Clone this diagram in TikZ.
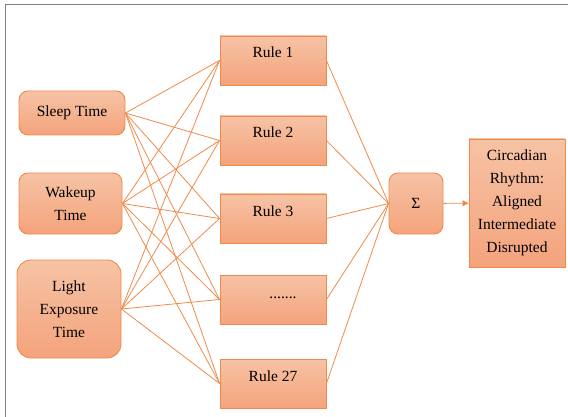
\documentclass[tikz,border=0pt]{standalone}
\usepackage{fontspec}
\setmainfont{Liberation Serif}
\newfontfamily\diagfont{Liberation Serif}
\usetikzlibrary{arrows.meta}
\definecolor{boxtop}{HTML}{F6C3A5}
\definecolor{boxbot}{HTML}{F4A37C}
\definecolor{boxline}{HTML}{F08A4B}
\colorlet{link}{boxline}
\tikzset{
  inbox/.style={draw=boxline,line width=0.9pt,top color=boxtop,bottom color=boxbot,rounded corners=9pt,align=center,inner sep=2pt},
  rulebox/.style={draw=boxline,line width=0.9pt,top color=boxtop,bottom color=boxbot,minimum width=106pt,inner xsep=2pt,inner ysep=4pt,text height=18pt,text depth=23pt},
  outbox/.style={draw=boxline,line width=0.9pt,top color=boxtop,bottom color=boxbot,align=center,inner sep=2pt},
  link/.style={draw=link,line width=0.8pt},
  frame/.style={draw=gray,line width=1pt},
}

\begin{document}
\begin{tikzpicture}[x=1pt,y=-1pt,font=\diagfont\fontsize{15.5}{23}\selectfont]
      \useasboundingbox (0,0) rectangle (568,417);
      \draw [frame] (5,417) -- (5,5) -- (568,5);
      % inputs
      \node [inbox,minimum width=106pt,minimum height=44pt] (sleep) at (72,113) {Sleep Time};
      \node [inbox,minimum width=103pt,minimum height=61pt] (wake) at (70.5,203.5) {Wakeup\\Time};
      \node [inbox,minimum width=104pt,minimum height=98pt,rounded corners=14pt] (light) at (69,309) {Light\\Exposure\\Time};
      % rules
      \foreach \i/\y/\txt in {1/60.5/Rule 1,2/140.5/Rule 2,3/218.5/Rule 3,5/383.5/Rule 27}
      {
        \node [rulebox] (r\i) at (273,\y) {\txt};
      }
      \node [rulebox,text height=19pt,text depth=22pt] (r4) at (273,299.5) {\hspace*{20pt}.......};
      % aggregation and output
      \node [inbox,minimum width=54pt,minimum height=61pt] (sum) at (416,203.5) {Σ};
      \node [outbox,minimum width=96pt,minimum height=128pt] (out) at (517,203) {Circadian\\Rhythm:\\Aligned\\Intermediate\\Disrupted};
      \foreach \a in {sleep,wake,light}
      {
        \foreach \b in {1,...,5}
          \draw [link] (\a.east) -- (r\b.west);
      }
      \foreach \b in {1,...,5}
        \draw [link] (r\b.east) -- (sum.west);
      \draw [link,-{Triangle[length=6pt,width=6pt]}] (sum) -- (out);
    \end{tikzpicture}
\end{document}
